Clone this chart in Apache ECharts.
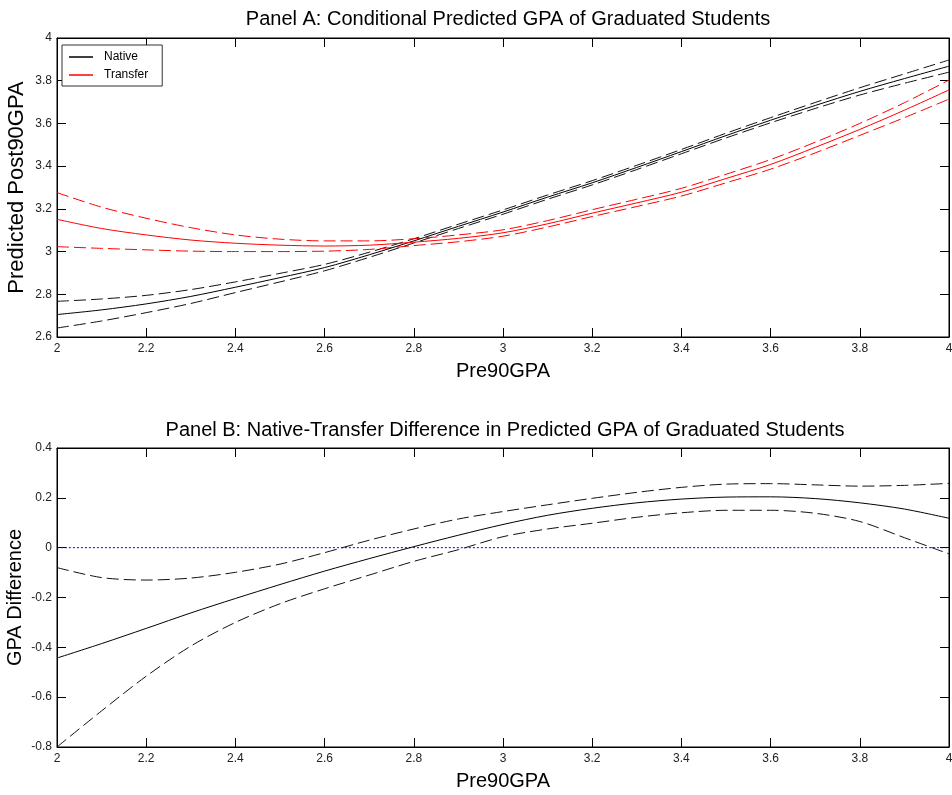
<!DOCTYPE html>
<html>
<head>
<meta charset="utf-8">
<script src="https://cdn.jsdelivr.net/npm/echarts@6/dist/echarts.min.js"></script>
<style>
html,body{margin:0;padding:0;background:#fff;}
#chart{width:952px;height:795px;}
</style>
</head>
<body>
<div id="chart"></div>
<script>
var pre90 = [2.0,2.1,2.2,2.3,2.4,2.5,2.6,2.7,2.8,2.9,3.0,3.1,3.2,3.3,3.4,3.5,3.6,3.7,3.8,3.9,4.0];

var nativeMean  = [2.705,2.727,2.755,2.790,2.833,2.878,2.925,2.985,3.050,3.118,3.185,3.255,3.322,3.394,3.468,3.543,3.615,3.684,3.750,3.810,3.868];
var nativeUpper = [2.767,2.778,2.795,2.822,2.858,2.898,2.940,2.997,3.060,3.128,3.195,3.265,3.332,3.404,3.478,3.554,3.627,3.698,3.767,3.832,3.897];
var nativeLower = [2.642,2.675,2.714,2.757,2.808,2.858,2.910,2.973,3.040,3.108,3.175,3.245,3.312,3.384,3.458,3.532,3.603,3.670,3.733,3.788,3.840];

var transferMean  = [3.151,3.108,3.078,3.054,3.039,3.030,3.026,3.030,3.044,3.062,3.088,3.130,3.180,3.228,3.278,3.342,3.408,3.488,3.572,3.662,3.757];
var transferUpper = [3.276,3.208,3.156,3.112,3.078,3.058,3.050,3.050,3.060,3.078,3.102,3.145,3.196,3.245,3.296,3.362,3.431,3.512,3.600,3.697,3.803];
var transferLower = [3.023,3.015,3.008,3.002,3.000,3.000,3.002,3.010,3.028,3.046,3.072,3.115,3.164,3.211,3.260,3.322,3.386,3.462,3.544,3.627,3.714];

var diffMean  = [-0.443,-0.385,-0.324,-0.262,-0.204,-0.148,-0.094,-0.044,0.004,0.050,0.093,0.130,0.158,0.180,0.195,0.203,0.204,0.197,0.180,0.155,0.118];
var diffUpper = [-0.080,-0.120,-0.130,-0.122,-0.099,-0.066,-0.020,0.030,0.075,0.115,0.145,0.172,0.198,0.222,0.242,0.255,0.257,0.252,0.247,0.250,0.258];
var diffLower = [-0.800,-0.655,-0.516,-0.395,-0.300,-0.225,-0.165,-0.110,-0.055,-0.008,0.044,0.075,0.098,0.122,0.140,0.150,0.150,0.138,0.105,0.040,-0.025];

var zeroX = [2, 4];
var zeroY = [0, 0];

var xTicksMin = 2, xTicksMax = 4, xTickStep = 0.2;
var yA = {min: 2.6, max: 4, step: 0.2};
var yB = {min: -0.8, max: 0.4, step: 0.2};

function pairs(xs, ys){ return xs.map(function(x,i){ return [x, ys[i]]; }); }

var FONT = 'Liberation Sans, Arial, sans-serif';
var tickLen = 9;

function xAxisPair(gridIndex){
  return [
    {type:'value', gridIndex:gridIndex, position:'bottom', min:xTicksMin, max:xTicksMax, interval:xTickStep,
     name:'Pre90GPA', nameLocation:'middle', nameGap:24, nameMoveOverlap:false,
     nameTextStyle:{fontFamily:FONT, fontSize:20, color:'#000'},
     axisLine:{show:true, onZero:false, lineStyle:{color:'#000', width:1}},
     axisTick:{show:true, inside:true, length:tickLen, lineStyle:{color:'#000'}},
     axisLabel:{show:true, fontFamily:FONT, fontSize:12, color:'#222', margin:6},
     splitLine:{show:false}},
    {type:'value', gridIndex:gridIndex, position:'top', min:xTicksMin, max:xTicksMax, interval:xTickStep,
     axisLine:{show:true, onZero:false, lineStyle:{color:'#000', width:1}},
     axisTick:{show:true, inside:true, length:tickLen, lineStyle:{color:'#000'}},
     axisLabel:{show:false}, splitLine:{show:false}}
  ];
}
function yAxisPair(gridIndex, r, name, nameSize, gap){
  return [
    {type:'value', gridIndex:gridIndex, position:'left', min:r.min, max:r.max, interval:r.step,
     name:name, nameLocation:'middle', nameGap:gap, nameMoveOverlap:false,
     nameTextStyle:{fontFamily:FONT, fontSize:nameSize, color:'#000'},
     axisLine:{show:true, onZero:false, lineStyle:{color:'#000', width:1}},
     axisTick:{show:true, inside:true, length:tickLen, lineStyle:{color:'#000'}},
     axisLabel:{show:true, fontFamily:FONT, fontSize:12, color:'#222', margin:5},
     splitLine:{show:false}},
    {type:'value', gridIndex:gridIndex, position:'right', min:r.min, max:r.max, interval:r.step,
     axisLine:{show:true, onZero:false, lineStyle:{color:'#000', width:1}},
     axisTick:{show:true, inside:true, length:tickLen, lineStyle:{color:'#000'}},
     axisLabel:{show:false}, splitLine:{show:false}}
  ];
}

var dash = [12, 5];
function line(name, xs, ys, color, type, xi, yi, z){
  return {name:name, type:'line', xAxisIndex:xi, yAxisIndex:yi, data:pairs(xs, ys),
    smooth:0.3, showSymbol:false, symbol:'none', silent:true, z:z||2,
    lineStyle:{color:color, width:1, type:type}, itemStyle:{color:color}};
}

var chart = echarts.init(document.getElementById('chart'), null, {renderer:'canvas'});
chart.setOption({
  animation:false,
  backgroundColor:'#fff',
  title:[
    {text:'Panel A: Conditional Predicted GPA of Graduated Students', left:503, textAlign:'center', top:4,
     textStyle:{fontFamily:FONT, fontSize:20, fontWeight:'normal', color:'#000'}},
    {text:'Panel B: Native-Transfer Difference in Predicted GPA of Graduated Students', left:500, textAlign:'center', top:415,
     textStyle:{fontFamily:FONT, fontSize:20, fontWeight:'normal', color:'#000'}}
  ],
  legend:{data:[{name:'Native', itemStyle:{color:'#000'}}, {name:'Transfer', itemStyle:{color:'#ff0000'}}],
    left:62, top:45, orient:'vertical',
    backgroundColor:'#fff', borderColor:'#333', borderWidth:1, padding:[6,14,5,7], itemGap:6,
    icon:'rect', itemWidth:24, itemHeight:1.5, selectedMode:false,
    textStyle:{fontFamily:FONT, fontSize:12, color:'#000', padding:[0,0,0,6]}},
  grid:[
    {left:57, top:38, width:892, height:299, show:true, borderColor:'#000', borderWidth:1, backgroundColor:'#fff', outerBoundsMode:'none', containLabel:false},
    {left:57, top:448, width:892, height:299, show:true, borderColor:'#000', borderWidth:1, backgroundColor:'#fff', outerBoundsMode:'none', containLabel:false}
  ],
  xAxis: xAxisPair(0).concat(xAxisPair(1)),
  yAxis: yAxisPair(0, yA, 'Predicted Post90GPA', 22, 29).concat(yAxisPair(1, yB, 'GPA Difference', 20, 32)),
  series:[
    line('Native upper', pre90, nativeUpper, '#111', dash, 0, 0),
    line('Native lower', pre90, nativeLower, '#111', dash, 0, 0),
    line('Transfer upper', pre90, transferUpper, '#ff0000', dash, 0, 0),
    line('Transfer lower', pre90, transferLower, '#ff0000', dash, 0, 0),
    line('Native', pre90, nativeMean, '#000', 'solid', 0, 0, 3),
    line('Transfer', pre90, transferMean, '#ff0000', 'solid', 0, 0, 3),
    line('Zero', zeroX, zeroY, '#0000ff', [2,2], 2, 2, 1),
    line('Diff upper', pre90, diffUpper, '#111', dash, 2, 2),
    line('Diff lower', pre90, diffLower, '#111', dash, 2, 2),
    line('Difference', pre90, diffMean, '#000', 'solid', 2, 2, 3)
  ]
});
</script>
</body>
</html>
